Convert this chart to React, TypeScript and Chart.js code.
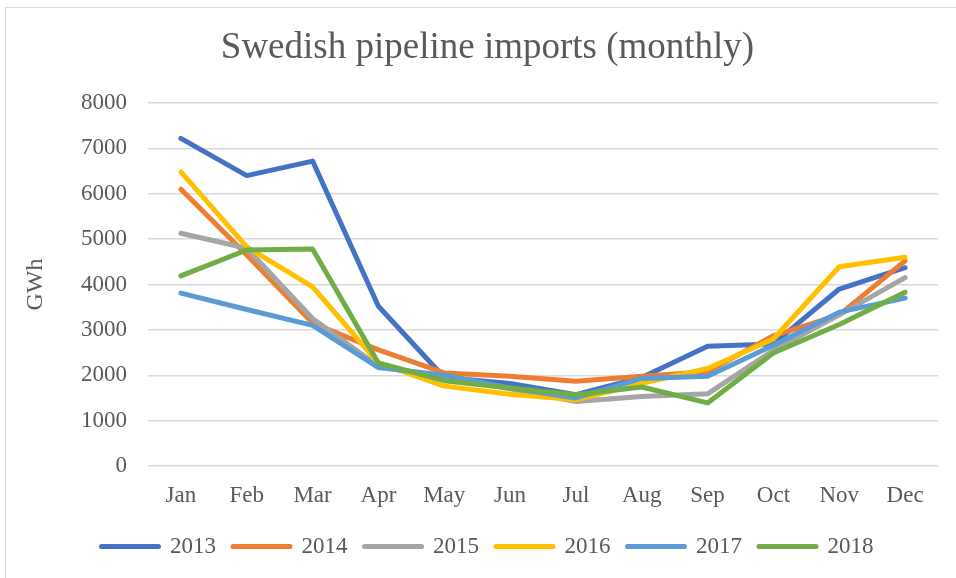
import React, { useEffect, useRef } from "react";
import { Chart, registerables } from "chart.js";

Chart.register(...registerables);

const FONT = "'Liberation Serif', 'Times New Roman', serif";
const TEXT = "#595959";

const months = ["Jan", "Feb", "Mar", "Apr", "May", "Jun", "Jul", "Aug", "Sep", "Oct", "Nov", "Dec"];
const years = ["2013", "2014", "2015", "2016", "2017", "2018"];
const colors = ["#4472C4", "#ED7D31", "#A5A5A5", "#FFC000", "#5B9BD5", "#70AD47"];

const v2013 = [7220, 6400, 6720, 3520, 1950, 1820, 1570, 1950, 2640, 2690, 3900, 4370];
const v2014 = [6100, 4650, 3150, 2560, 2050, 1980, 1870, 1980, 2080, 2870, 3330, 4520];
const v2015 = [5130, 4800, 3250, 2200, 1960, 1700, 1420, 1530, 1590, 2550, 3330, 4150];
const v2016 = [6480, 4830, 3950, 2270, 1760, 1580, 1460, 1820, 2150, 2800, 4390, 4600];
const v2017 = [3810, 3450, 3100, 2170, 2000, 1720, 1500, 1930, 1980, 2660, 3390, 3700];
const v2018 = [4190, 4760, 4780, 2270, 1880, 1720, 1570, 1740, 1390, 2490, 3120, 3830];

const yTicks = [0, 1000, 2000, 3000, 4000, 5000, 6000, 7000, 8000];

export default function App() {
  const ref = useRef<HTMLCanvasElement>(null);

  useEffect(() => {
    const series = [v2013, v2014, v2015, v2016, v2017, v2018];
    const chart = new Chart(ref.current as HTMLCanvasElement, {
      type: "line",
      data: {
        labels: months,
        datasets: series.map((d, i) => ({
          label: years[i],
          data: d,
          borderColor: colors[i],
          backgroundColor: colors[i],
          borderWidth: 5,
          pointRadius: 0,
          pointHoverRadius: 0,
          tension: 0,
          fill: false,
          borderCapStyle: "round",
          borderJoinStyle: "round",
          order: series.length - 1 - i,
        })) as any,
      },
      options: {
        responsive: false,
        animation: false,
        devicePixelRatio: 1,
        layout: { padding: { left: 15, right: 16, top: 0, bottom: 10 } },
        plugins: {
          tooltip: { enabled: false },
          title: {
            display: true,
            text: "Swedish pipeline imports (monthly)",
            color: TEXT,
            font: { family: FONT, size: 37, weight: "normal" },
            padding: { top: 18, bottom: 32.6 },
          },
          legend: {
            position: "bottom",
            labels: {
              usePointStyle: true,
              pointStyle: "line",
              pointStyleWidth: 57,
              boxHeight: 23,
              padding: 17,
              color: TEXT,
              font: { family: FONT, size: 23 },
              generateLabels: (c: any) =>
                c.data.datasets.map((ds: any, i: number) => ({
                  text: ds.label,
                  fillStyle: ds.borderColor,
                  strokeStyle: ds.borderColor,
                  lineWidth: 5,
                  lineCap: "round",
                  pointStyle: "line",
                  hidden: false,
                  datasetIndex: i,
                  fontColor: TEXT,
                })),
            },
          },
        },
        scales: {
          x: {
            offset: true,
            grid: { display: false, drawTicks: false },
            border: { display: false },
            ticks: {
              color: TEXT,
              font: { family: FONT, size: 23 },
              padding: 16,
              maxRotation: 0,
              autoSkip: false,
            },
            afterFit: (s: any) => {
              s.height = 52;
            },
          },
          y: {
            min: 0,
            max: 8000,
            afterBuildTicks: (s: any) => {
              s.ticks = yTicks.map((v) => ({ value: v }));
            },
            ticks: {
              color: TEXT,
              font: { family: FONT, size: 23 },
              padding: 21,
              callback: (v: any) => String(v),
            },
            grid: { color: "#d9d9d9", lineWidth: 1.5, drawTicks: false },
            border: { display: false },
            title: {
              display: true,
              text: "GWh",
              color: TEXT,
              font: { family: FONT, size: 24 },
              padding: 0,
            },
            afterFit: (s: any) => {
              s.width = 127;
            },
          },
          y2: {
            position: "right",
            display: true,
            grid: { display: false, drawTicks: false },
            ticks: { display: false },
            border: { display: false },
            afterFit: (s: any) => {
              s.width = 16;
            },
          },
        },
      } as any,
    });
    return () => chart.destroy();
  }, []);

  return (
    <div
      style={{
        position: "absolute",
        left: 0,
        top: 0,
        width: 956,
        height: 578,
        overflow: "hidden",
        background: "#fff",
      }}
    >
      <div
        style={{
          position: "absolute",
          left: 5,
          top: 7,
          width: 966,
          height: 600,
          border: "1px solid #d9d9d9",
          boxSizing: "border-box",
          background: "#fff",
        }}
      >
        <canvas ref={ref} width={964} height={570} style={{ display: "block" }} />
      </div>
    </div>
  );
}
